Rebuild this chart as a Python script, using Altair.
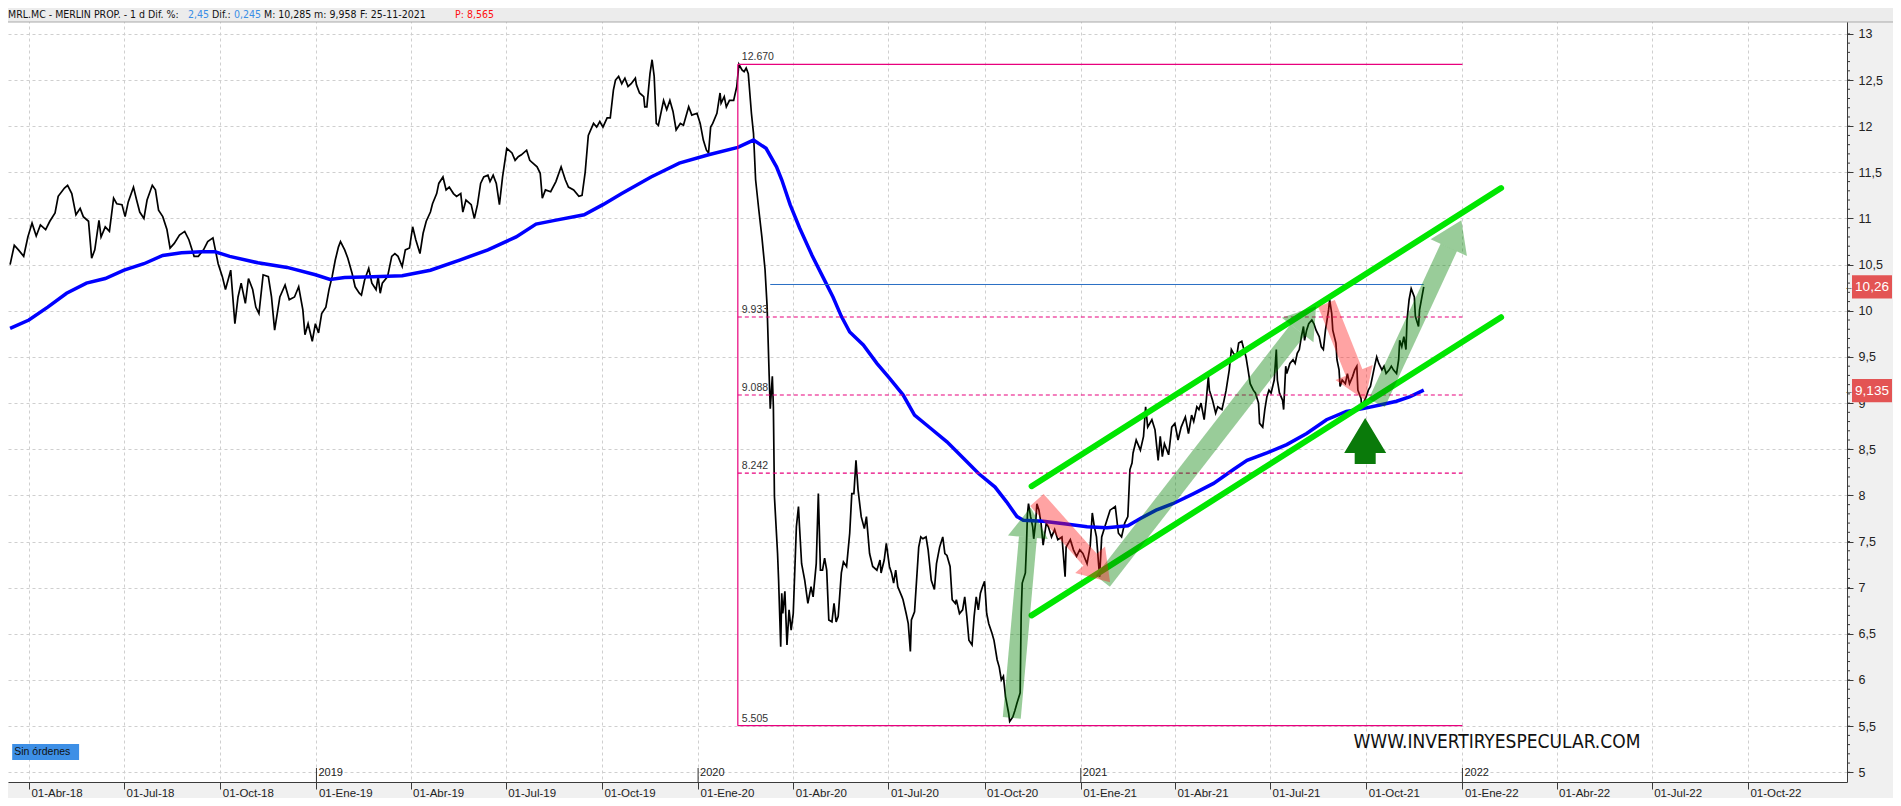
import math
import altair as alt
import pandas as pd

# ------------------------------------------------------------------
# Data (day = days after BASE_DATE)
# ------------------------------------------------------------------
BASE_DATE = "2018-03-12"

price_points = [
(2,10.50),(6,10.71),(10,10.66),(15,10.59),(19,10.80),(23,10.95),(27,10.81),(31,10.93),(36,10.88),(40,10.97),
(45,11.06),(48,11.24),(54,11.33),(57,11.36),(61,11.27),(65,11.04),(69,11.11),(72,11.02),(77,10.97),(80,10.57),
(83,10.66),(87,10.98),(89,10.80),(93,10.91),(97,10.86),(101,11.22),(104,11.16),(109,11.15),(112,11.02),(115,11.18),
(120,11.34),(123,11.20),(126,11.07),(130,11.00),(133,11.20),(138,11.36),(141,11.31),(144,11.09),(148,11.02),(152,10.88),
(155,10.68),(159,10.73),(164,10.82),(169,10.86),(173,10.77),(178,10.59),(182,10.59),(187,10.66),(191,10.75),(196,10.79),
(201,10.51),(205,10.37),(208,10.23),(213,10.44),(217,9.86),(220,10.15),(223,10.30),(227,10.08),(230,10.35),(234,10.23),
(237,10.04),(240,9.97),(244,10.39),(249,10.37),(252,10.15),(255,9.79),(260,10.15),(265,10.28),(269,10.12),(274,10.15),
(278,10.26),(282,10.01),(284,9.74),(287,9.86),(291,9.67),(294,9.86),(297,9.76),(300,9.97),(304,10.04),(307,10.23),
(310,10.37),(313,10.55),(316,10.69),(318,10.75),(322,10.66),(325,10.57),(329,10.41),(332,10.26),(336,10.19),(338,10.17),
(341,10.33),(345,10.46),(348,10.30),(352,10.23),(354,10.37),(356,10.19),(358,10.30),(363,10.37),(367,10.59),(370,10.62),
(373,10.59),(377,10.48),(380,10.66),(384,10.68),(387,10.91),(390,10.77),(394,10.62),(397,10.84),(400,10.97),(404,11.07),
(406,11.16),(410,11.27),(412,11.38),(416,11.45),(419,11.31),(422,11.34),(426,11.27),(429,11.24),(433,11.27),(435,11.07),
(438,11.20),(443,11.15),(446,11.00),(449,11.15),(452,11.38),(455,11.45),(459,11.47),(461,11.40),(464,11.47),(467,11.38),
(470,11.15),(473,11.45),(477,11.76),(482,11.71),(485,11.63),(488,11.67),(491,11.69),(496,11.74),(499,11.63),(502,11.60),
(506,11.56),(509,11.49),(511,11.22),(514,11.31),(519,11.29),(524,11.40),(529,11.56),(533,11.42),(536,11.34),(541,11.31),
(546,11.24),(549,11.25),(552,11.50),(555,11.90),(560,12.03),(563,11.99),(566,12.05),(569,11.99),(573,12.09),(576,12.09),
(579,12.39),(581,12.50),(584,12.54),(587,12.46),(590,12.52),(593,12.43),(596,12.46),(600,12.52),(601,12.45),(604,12.36),
(608,12.32),(609,12.21),(611,12.21),(614,12.57),(616,12.72),(618,12.54),(620,12.03),(622,12.01),(627,12.28),(630,12.18),
(633,12.28),(636,12.16),(639,11.96),(643,12.03),(646,12.01),(651,12.21),(654,12.12),(659,12.14),(662,12.03),(665,11.85),
(668,11.74),(670,11.71),(672,11.99),(674,12.03),(678,12.14),(681,12.36),(682,12.25),(685,12.32),(687,12.21),(690,12.28),
(694,12.28),(697,12.43),(699,12.67),(702,12.61),(704,12.59),(706,12.63),(708,12.57),(711,12.14),(713,11.92),(715,11.42),
(718,11.10),(721,10.80),(724,10.45),(726,10.05),(728,9.29),(729,8.94),(731,9.29),(732,8.96),(733,7.99),(736,7.37),
(737,7.08),(739,6.36),(740,6.94),(741,6.72),(743,6.96),(745,6.38),(747,6.76),(749,6.54),(751,6.72),(754,7.66),
(756,7.88),(757,7.66),(759,7.26),(762,7.08),(765,6.83),(768,7.01),(770,6.90),(773,7.26),(775,8.02),(777,7.19),
(779,7.19),(781,7.32),(783,7.19),(785,6.65),(788,6.63),(790,6.83),(792,6.63),(794,6.69),(797,7.16),(799,7.28),
(802,7.23),(805,7.59),(807,8.02),(809,8.02),(811,8.38),(813,8.06),(816,7.77),(819,7.64),(821,7.77),(824,7.37),
(827,7.23),(831,7.19),(834,7.30),(835,7.16),(838,7.30),(840,7.48),(843,7.23),(845,7.16),(847,7.05),(849,7.19),
(851,7.01),(855,6.90),(856,6.87),(859,6.72),(861,6.61),(863,6.31),(864,6.65),(867,6.74),(871,7.44),(873,7.55),
(875,7.53),(878,7.55),(880,7.41),(883,7.08),(886,6.98),(888,7.26),(891,7.44),(894,7.55),(896,7.37),(898,7.35),
(901,7.23),(903,6.87),(906,6.83),(907,6.87),(910,6.72),(913,6.76),(915,6.90),(917,6.69),(919,6.43),(922,6.38),
(924,6.69),(926,6.90),(928,6.76),(930,6.94),(932,7.01),(934,7.07),(936,6.72),(938,6.61),(941,6.51),(943,6.43),
(946,6.22),(948,6.14),(950,6.00),(952,6.04),(954,5.82),(957,5.64),(958,5.55),(961,5.60),(963,5.67),(965,5.75),
(968,5.86),(969,6.72),(970,7.05),(973,7.16),(974,7.44),(975,7.80),(976,7.91),(978,7.77),(980,7.66),(981,7.53),
(983,7.73),(984,7.91),(986,7.84),(988,7.70),(990,7.46),(993,7.70),(995,7.66),(998,7.55),(1001,7.63),(1004,7.52),
(1008,7.55),(1011,7.12),(1012,7.44),(1016,7.52),(1019,7.41),(1022,7.34),(1025,7.41),(1028,7.37),(1032,7.26),(1035,7.45),
(1037,7.81),(1039,7.66),(1041,7.55),(1044,7.12),(1046,7.55),(1049,7.66),(1054,7.84),(1059,7.88),(1062,7.59),(1065,7.55),
(1068,7.70),(1071,7.77),(1073,8.28),(1075,8.35),(1076,8.46),(1079,8.60),(1083,8.49),(1086,8.64),(1088,8.96),(1090,8.74),
(1094,8.82),(1097,8.71),(1100,8.38),(1102,8.64),(1104,8.42),(1106,8.56),(1110,8.44),(1113,8.74),(1116,8.78),(1119,8.60),
(1122,8.74),(1126,8.85),(1129,8.67),(1132,8.87),(1134,8.80),(1137,8.96),(1139,8.93),(1141,9.00),(1144,8.82),(1146,9.03),
(1148,9.29),(1149,9.14),(1152,9.03),(1155,8.89),(1157,8.96),(1161,8.93),(1163,9.03),(1165,9.14),(1168,9.36),(1170,9.58),
(1172,9.54),(1175,9.50),(1177,9.65),(1180,9.67),(1182,9.58),(1184,9.50),(1186,9.36),(1188,9.21),(1191,9.14),(1193,9.11),
(1196,9.00),(1197,8.78),(1200,8.74),(1202,8.93),(1204,9.07),(1206,9.14),(1208,9.11),(1211,9.25),(1213,9.58),(1214,9.25),
(1216,9.11),(1219,9.03),(1220,8.93),(1222,9.40),(1223,9.32),(1226,9.43),(1229,9.47),(1231,9.43),(1233,9.54),(1235,9.58),
(1237,9.72),(1239,9.83),(1240,9.68),(1242,9.79),(1244,9.86),(1247,9.90),(1249,9.86),(1251,9.79),(1254,9.72),(1256,9.61),
(1258,9.58),(1260,9.79),(1263,10.01),(1264,10.12),(1266,9.97),(1267,9.79),(1270,9.65),(1271,9.47),(1273,9.36),(1274,9.18),
(1276,9.25),(1279,9.21),(1281,9.32),(1283,9.21),(1286,9.29),(1288,9.36),(1290,9.40),(1291,9.14),(1294,9.05),(1295,8.93),
(1297,9.02),(1299,9.07),(1301,9.14),(1303,9.18),(1305,9.29),(1307,9.40),(1309,9.50),(1311,9.43),(1314,9.36),(1316,9.40),
(1318,9.32),(1321,9.36),(1323,9.40),(1325,9.36),(1328,9.32),(1330,9.47),(1331,9.68),(1333,9.61),(1335,9.72),(1337,9.58),
(1338,9.90),(1340,10.12),(1342,10.24),(1345,10.15),(1346,9.94),(1349,9.83),(1350,10.01),(1354,10.26),
]

ma_points = [
(2,9.81),(20,9.90),(38,10.04),(56,10.19),(75,10.30),(93,10.35),(111,10.44),(130,10.51),(148,10.60),(166,10.63),
(185,10.64),(198,10.64),(212,10.59),(239,10.52),(267,10.47),(294,10.39),(308,10.34),(322,10.36),(349,10.37),(377,10.38),
(404,10.44),(432,10.55),(459,10.66),(486,10.80),(505,10.94),(523,10.98),(551,11.04),(569,11.15),(587,11.27),(615,11.45),
(642,11.60),(670,11.69),(698,11.77),(713,11.85),(725,11.76),(735,11.56),(740,11.42),(748,11.15),(757,10.90),(769,10.60),
(781,10.33),(789,10.15),(797,9.94),(805,9.77),(818,9.63),(831,9.43),(843,9.27),(856,9.09),(867,8.87),(882,8.73),
(898,8.58),(914,8.40),(928,8.24),(944,8.09),(955,7.93),(965,7.77),(971,7.73),(990,7.72),(1012,7.69),(1032,7.66),
(1051,7.65),(1071,7.67),(1083,7.75),(1098,7.84),(1114,7.91),(1134,8.02),(1153,8.13),(1172,8.28),(1185,8.38),(1204,8.46),
(1223,8.55),(1242,8.67),(1261,8.82),(1280,8.91),(1296,8.94),(1312,8.98),(1328,9.02),(1341,9.07),(1354,9.14),
]

fib_levels = [12.670, 9.933, 9.088, 8.242, 5.505]
fib_labels = ["12.670", "9.933", "9.088", "8.242", "5.505"]
fib_dashed = [False, True, True, True, False]
fib_start_day = 698
fib_end_day = 1391

high_line_value = 10.285
high_line_days = [729, 1354]

channel_days = [979, 1428]
channel_upper = [8.10, 11.33]
channel_lower = [6.70, 9.93]

arrow_dir = ["up", "down", "up", "down", "up"]
arrow_start_day = [960, 984, 1047, 1261, 1309]
arrow_start_value = [5.59, 7.95, 7.07, 10.08, 9.00]
arrow_tip_day = [978, 1054, 1251, 1298, 1390]
arrow_tip_value = [7.87, 7.06, 10.05, 9.03, 10.98]

signal_day = 1298
signal_value = 8.46

tag_values = [10.26, 9.135]
tag_texts = ["10,26", "9,135"]

quarter_ticks = ["2018-04-01", "2018-07-01", "2018-10-01", "2019-01-01", "2019-04-01",
                 "2019-07-01", "2019-10-01", "2020-01-01", "2020-04-01", "2020-07-01",
                 "2020-10-01", "2021-01-01", "2021-04-01", "2021-07-01", "2021-10-01",
                 "2022-01-01", "2022-04-01", "2022-07-01", "2022-10-01"]
month_names = ["Ene", "Feb", "Mar", "Abr", "May", "Jun", "Jul", "Ago", "Sep", "Oct", "Nov", "Dic"]
year_starts = ["2019-01-01", "2020-01-01", "2021-01-01", "2022-01-01"]
year_labels = ["2019", "2020", "2021", "2022"]
y_ticks = [5, 5.5, 6, 6.5, 7, 7.5, 8, 8.5, 9, 9.5, 10, 10.5, 11, 11.5, 12, 12.5, 13]
y_minor_ticks = [round(5 + 0.1 * i, 1) for i in range(81)]

watermark_text = "WWW.INVERTIRYESPECULAR.COM"
watermark_day, watermark_value = 1424, 5.33
orders_text = "Sin órdenes"
orders_days = [4, 68]
orders_values = [5.134, 5.307]

header_parts = ["MRL.MC - MERLIN PROP. - 1 d Dif. %:", "2,45", "Dif.:", "0,245",
                "M: 10,285", "m: 9,958", "F: 25-11-2021", "P: 8,565"]

# ------------------------------------------------------------------
# Layout
# ------------------------------------------------------------------
W, H = 1839, 774
X_DAYS = 1758.8
Y_MIN, Y_MAX = 4.8949, 13.2806
PPD = W / X_DAYS
PPU = H / (Y_MAX - Y_MIN)
FONT = "Liberation Sans"
NARROW = "Liberation Sans Narrow, DejaVu Sans Condensed, Liberation Sans"

base = pd.Timestamp(BASE_DATE)


def iso(day):
    return (base + pd.Timedelta(days=float(day))).strftime("%Y-%m-%dT%H:%M:%SZ")


def ms(ts):
    return int(pd.Timestamp(ts).value // 1_000_000)


xs = alt.Scale(type="utc", domain=[ms(base), ms(base + pd.Timedelta(days=X_DAYS))], nice=False)
ys = alt.Scale(domain=[Y_MIN, Y_MAX], nice=False, zero=False)


def X(field="date", **kw):
    return alt.X(f"{field}:T", scale=xs, title=None, **kw)


def Y(field="value", **kw):
    return alt.Y(f"{field}:Q", scale=ys, title=None, **kw)


one = pd.DataFrame({"k": [0]})

label_expr = ("utcFormat(datum.value, '%d') + '-' + " + str(month_names) +
              "[utcmonth(datum.value)] + '-' + utcFormat(datum.value, '%y')")

x_axis = alt.Axis(values=[ms(t) for t in quarter_ticks], labelExpr=label_expr,
                  grid=True, gridDash=[3, 3], gridColor="#cfcfcf", gridWidth=1,
                  domainColor="#3a3a3a", tickColor="#3a3a3a", tickSize=7,
                  labelAlign="left", labelBaseline="middle", labelPadding=4, labelOffset=2,
                  labelFont=FONT, labelFontSize=11.5, labelColor="#222222",
                  labelOverlap=False, labelFlush=False)
y_axis = alt.Axis(orient="right", values=y_ticks,
                  labelExpr="replace(format(datum.value, '.3~g'), '.', ',')",
                  grid=True, gridDash=[3, 3], gridColor="#cfcfcf", gridWidth=1,
                  domainColor="#3a3a3a", tickColor="#3a3a3a", tickSize=6,
                  labelPadding=5, labelFont=FONT, labelFontSize=12.5, labelColor="#222222",
                  labelOverlap=False, labelFlush=False)

# price & moving average
price_df = pd.DataFrame({"date": [iso(d) for d, _ in price_points],
                         "value": [v for _, v in price_points]})
ma_df = pd.DataFrame({"date": [iso(d) for d, _ in ma_points],
                      "value": [v for _, v in ma_points]})

price = alt.Chart(price_df).mark_line(color="#000000", strokeWidth=1.7).encode(
    x=X(axis=x_axis), y=Y(axis=y_axis))
ma = alt.Chart(ma_df).mark_line(color="#0000ff", strokeWidth=3.5).encode(x=X(), y=Y())

# Fibonacci box
fib_df = pd.DataFrame({"start": iso(fib_start_day), "end": iso(fib_end_day),
                       "value": fib_levels, "label": fib_labels, "dashed": fib_dashed})
fib_solid = alt.Chart(fib_df[~fib_df.dashed]).mark_rule(color="#e8007d", strokeWidth=1.2).encode(
    x=X("start"), x2="end:T", y=Y())
fib_dash = alt.Chart(fib_df[fib_df.dashed]).mark_rule(color="#e8007d", strokeWidth=1.2,
                                                      strokeDash=[4, 3]).encode(
    x=X("start"), x2="end:T", y=Y())
fib_vert = alt.Chart(pd.DataFrame({"date": [iso(fib_start_day)], "v0": [min(fib_levels)],
                                   "v1": [max(fib_levels)]})).mark_rule(
    color="#e8007d", strokeWidth=1.2).encode(x=X(), y=Y("v0"), y2="v1:Q")
fib_text = alt.Chart(fib_df).mark_text(align="left", baseline="bottom", dx=4, dy=-2,
                                       font=FONT, fontSize=10.5, color="#333333").encode(
    x=X("start"), y=Y(), text="label:N")

high_line = alt.Chart(pd.DataFrame({"start": [iso(high_line_days[0])], "end": [iso(high_line_days[1])],
                                    "value": [high_line_value]})).mark_rule(
    color="#2a6fc4", strokeWidth=1).encode(x=X("start"), x2="end:T", y=Y())

# channel
chan_df = pd.DataFrame({"start": [iso(channel_days[0])] * 2, "end": [iso(channel_days[1])] * 2,
                        "v0": [channel_upper[0], channel_lower[0]],
                        "v1": [channel_upper[1], channel_lower[1]]})
channel = alt.Chart(chan_df).mark_rule(color="#00e600", strokeWidth=6, strokeCap="round").encode(
    x=X("start"), x2="end:T", y=Y("v0"), y2="v1:Q")

# translucent arrows
SHAFT_W, HEAD_W = 18, 40
HEAD_L = 0.75 * HEAD_W
rows = []
for k, d0, v0, d1, v1 in zip(arrow_dir, arrow_start_day, arrow_start_value, arrow_tip_day, arrow_tip_value):
    dx = (d1 - d0) * PPD
    dy = -(v1 - v0) * PPU
    L = math.hypot(dx, dy)
    ux, uy = dx / L, dy / L
    bd = d1 - HEAD_L * ux / PPD
    bv = v1 + HEAD_L * uy / PPU
    ang = math.degrees(math.atan2(ux, -uy)) % 360
    rows.append({"start": iso(d0), "v0": v0, "base": iso(bd), "vb": bv, "angle": ang,
                 "c": "#008000" if k == "up" else "#ff1a1a"})
arrow_df = pd.DataFrame(rows)
shafts = alt.Chart(arrow_df).mark_rule(strokeWidth=SHAFT_W, strokeCap="butt", opacity=0.4).encode(
    x=X("start"), x2="base:T", y=Y("v0"), y2="vb:Q", color=alt.Color("c:N", scale=None))
heads = alt.Chart(arrow_df).mark_point(shape="M0,-1.5L1,0L-1,0Z", filled=True, opacity=0.4,
                                       strokeWidth=0, size=HEAD_W ** 2).encode(
    x=X("base"), y=Y("vb"), angle=alt.Angle("angle:Q", scale=None),
    color=alt.Color("c:N", scale=None))

signal = alt.Chart(pd.DataFrame({"date": [iso(signal_day)], "value": [signal_value]})).mark_point(
    shape="M0,-1.667L1,0L0.5,0L0.5,0.524L-0.5,0.524L-0.5,0L-1,0Z", filled=True, opacity=1,
    strokeWidth=0, size=42 ** 2, color="#0a7a0a").encode(x=X(), y=Y())

# right-axis extras
minor = alt.Chart(pd.DataFrame({"value": y_minor_ticks})).mark_rule(color="#3a3a3a").encode(
    x=alt.value(W), x2=alt.value(W + 3), y=Y())
tag_df = pd.DataFrame({"value": tag_values, "text": tag_texts})
tag_box = alt.Chart(tag_df).mark_point(shape="M-1,-0.58L1,-0.58L1,0.58L-1,0.58Z", filled=True,
                                       opacity=1, strokeWidth=0, size=40 ** 2,
                                       color="#e35454").encode(x=alt.value(W + 25), y=Y())
tag_txt = alt.Chart(tag_df).mark_text(color="white", font=FONT, fontSize=13.5, align="center",
                                      baseline="middle").encode(x=alt.value(W + 25), y=Y(), text="text:N")
tag_arrow = alt.Chart(tag_df).mark_text(text="←", color="#333333", font=FONT, fontSize=9,
                                        align="center", baseline="middle").encode(x=alt.value(W + 2), y=Y())

# year markers on the time axis
year_df = pd.DataFrame({"date": year_starts, "label": year_labels})
year_rule = alt.Chart(year_df).mark_rule(color="#333333").encode(
    x=X(), y=alt.value(H - 14), y2=alt.value(H))
year_txt = alt.Chart(year_df).mark_text(align="left", baseline="middle", dx=2, font=FONT,
                                        fontSize=11, color="#222222").encode(
    x=X(), y=alt.value(H - 9), text="label:N")

# watermark & "Sin órdenes"
watermark = alt.Chart(pd.DataFrame({"date": [iso(watermark_day)], "value": [watermark_value],
                                    "t": [watermark_text]})).mark_text(
    font=NARROW, fontSize=19, color="#111111", align="center", baseline="middle").encode(
    x=X(), y=Y(), text="t:N")
orders_box = alt.Chart(pd.DataFrame({"d0": [iso(orders_days[0])], "d1": [iso(orders_days[1])],
                                     "v0": [orders_values[0]], "v1": [orders_values[1]]})).mark_rect(
    color="#3d8fe6").encode(x=X("d0"), x2="d1:T", y=Y("v0"), y2="v1:Q")
orders_txt = alt.Chart(pd.DataFrame({"date": [iso(orders_days[0] + 2)],
                                     "value": [sum(orders_values) / 2], "t": [orders_text]})).mark_text(
    font=FONT, fontSize=10.5, color="#111111", align="left", baseline="middle").encode(
    x=X(), y=Y(), text="t:N")

# header strip
header_bg = alt.Chart(one).mark_rect(color="#ececec").encode(
    x=alt.value(0), x2=alt.value(W + 46), y=alt.value(0), y2=alt.value(14))
header_line = alt.Chart(one).mark_rule(color="#a9a9a9").encode(
    x=alt.value(0), x2=alt.value(W + 46), y=alt.value(14))
header_x = [0, 180, 204, 226, 256, 306, 352, 447]
header_col = ["#111111", "#3a8ee6", "#111111", "#3a8ee6", "#111111", "#111111", "#111111", "#ff1010"]
header_txt = [alt.Chart(one).mark_text(text=t, align="left", baseline="middle", font=NARROW,
                                       fontSize=10.5, color=c).encode(x=alt.value(px), y=alt.value(7))
              for t, px, c in zip(header_parts, header_x, header_col)]

chart = alt.layer(
    price, ma, fib_solid, fib_dash, fib_vert, fib_text, high_line, channel, shafts, heads, signal,
    minor, tag_box, tag_txt, tag_arrow, year_rule, year_txt, watermark, orders_box, orders_txt,
    header_bg, header_line, *header_txt,
).properties(
    width=W, height=H, background="#f0f0f0",
    padding={"left": 0, "top": 0, "right": 46, "bottom": 16},
    autosize=alt.AutoSizeParams(type="none"),
).configure_view(fill="white", strokeWidth=0)

chart.save("out.html", embed_options={"renderer": "svg", "actions": False})
